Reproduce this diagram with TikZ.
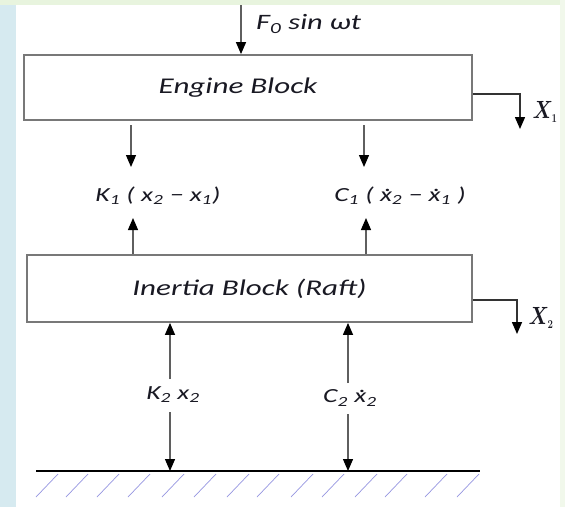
\documentclass[tikz,border=0pt]{standalone}
\usepackage{fontspec}
\usepackage{graphicx}
\setmainfont{Carlito}
\usetikzlibrary{arrows.meta}
\definecolor{bgblue}{RGB}{214,234,240}
\definecolor{bggreen}{RGB}{232,244,222}
\definecolor{boxgray}{RGB}{120,120,120}
\definecolor{linegray}{RGB}{95,95,95}
\definecolor{hatch}{RGB}{150,150,225}
\definecolor{txt}{RGB}{25,25,35}
\newcommand\mysub[1]{\textsubscript{#1}}
\newcommand\wide[1]{\scalebox{1.38}[1]{#1}}
\newcommand\dx{\leavevmode\rlap{\hspace{0.17em}\raisebox{0.52em}{.}}x}
\tikzset{
  blockbox/.style={draw=boxgray,line width=1.8pt,fill=white,inner sep=0pt,font=\fontsize{22.5}{24}\selectfont\itshape,text=txt},
  flabel/.style={font=\fontsize{20}{22}\selectfont\itshape,text=txt,inner sep=0pt},
  xlabel/.style={font=\fontsize{25}{27}\selectfont\boldmath,text=txt,inner sep=0pt},
  force/.style={draw=linegray,line width=1.3pt,-{Triangle[width=10pt,length=12pt,color=black]}},
  disp/.style={draw=black!80,line width=1.5pt,-{Triangle[width=10pt,length=12pt,color=black]}},
  hatchline/.style={draw=hatch,line width=0.7pt}
}
\begin{document}
\begin{tikzpicture}[x=1pt,y=-1pt]
\useasboundingbox (0,0) rectangle (565,507);
\fill[bgblue] (0,0) rectangle (565,507);
\fill[bggreen] (0,0) rectangle (565,5);
\fill[bggreen!60!white] (560,0) rectangle (565,507);
\fill[white] (16,5) rectangle (560,507);
% blocks
\node[blockbox,minimum width=448pt,minimum height=65pt] (engine) at (248,87.5) {\hspace*{-20pt}\wide{Engine Block}};
\node[blockbox,minimum width=445pt,minimum height=67pt] (raft) at (249.5,288.5) {\wide{Inertia Block (Raft)}};
% excitation
\coordinate (ftop) at (241,5);
\draw[force] (ftop) -- (ftop |- engine.north);
\node[flabel,font=\fontsize{22}{24}\selectfont\itshape,anchor=west] (flab) at (256,24) {\wide{F\mysub{0} sin ωt}};
% displacements
\coordinate (x1a) at (engine.east |- 0,94);
\coordinate (x1b) at (520,94);
\coordinate (x1c) at (520,129);
\draw[disp] (x1a) -- (x1b) -- (x1c);
\node[xlabel] (x1lab) at (545,112) {\scalebox{0.8}[1]{$X_{\scriptscriptstyle 1}$}};
\coordinate (x2a) at (raft.east |- 0,300);
\coordinate (x2b) at (517,300);
\coordinate (x2c) at (517,334);
\draw[disp] (x2a) -- (x2b) -- (x2c);
\node[xlabel] (x2lab) at (541,318) {\scalebox{0.8}[1]{$X_{\scriptscriptstyle 2}$}};
% upper spring/damper forces
\node[flabel] (k1lab) at (158,196) {\wide{K\mysub{1} ( x\mysub{2} − x\mysub{1})}};
\node[flabel] (c1lab) at (400,196) {\wide{C\mysub{1} ( \dx\mysub{2} − \dx\mysub{1} )}};
\coordinate (k1t) at (131,125); \coordinate (k1b) at (131,167);
\coordinate (c1t) at (364,125); \coordinate (c1b) at (364,167);
\draw[force] (k1t) -- (k1b);
\draw[force] (c1t) -- (c1b);
\coordinate (k1u) at (133,218); \coordinate (c1u) at (366,218);
\draw[force] (k1u |- raft.north) -- (k1u);
\draw[force] (c1u |- raft.north) -- (c1u);
% lower forces
\node[flabel] (k2lab) at (173,395) {\wide{K\mysub{2} x\mysub{2}}};
\node[flabel] (c2lab) at (350,398) {\wide{C\mysub{2} \dx\mysub{2}}};
\coordinate (k2s) at (170,379); \coordinate (c2s) at (348,383);
\coordinate (k2d) at (170,412); \coordinate (c2d) at (348,414);
\coordinate (gL) at (36,471); \coordinate (gR) at (480,471);
\draw[force] (k2s) -- (k2s |- raft.south);
\draw[force] (c2s) -- (c2s |- raft.south);
\draw[force] (k2d) -- (k2d |- gL);
\draw[force] (c2d) -- (c2d |- gL);
% ground
\draw[black,line width=2.2pt] (gL) -- (gR);
\foreach \hx in {58,88,119,150,184,216,249,279,313,344,377,407,447,479}
  \draw[hatchline] (\hx,474) -- (\hx-22,497);
\end{tikzpicture}
\end{document}
